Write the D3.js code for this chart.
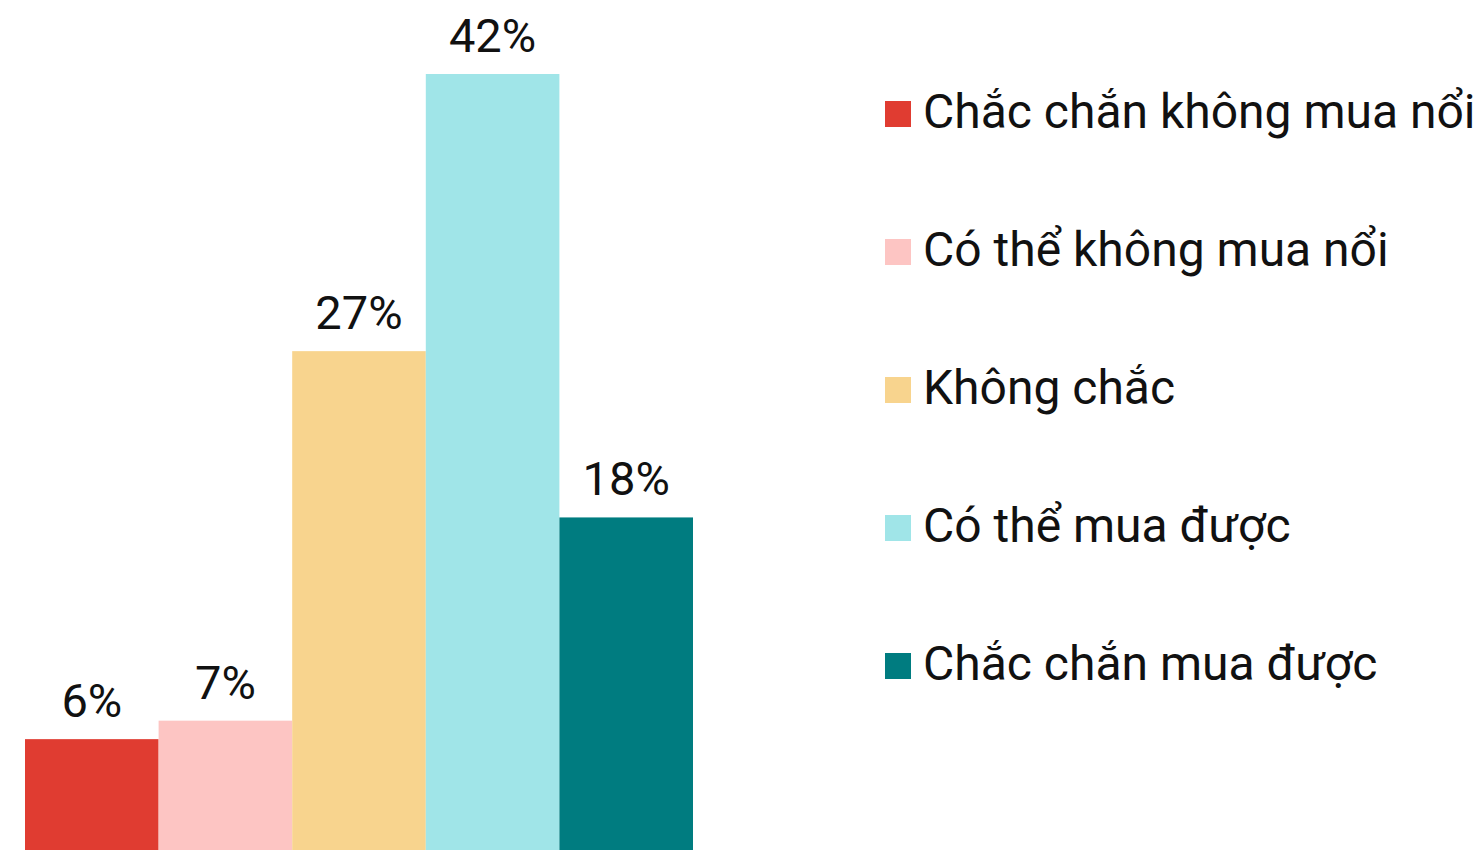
<!DOCTYPE html>
<html>
<head>
<meta charset="utf-8">
<script src="https://cdn.jsdelivr.net/npm/d3@7"></script>
<style>
  html, body { margin: 0; padding: 0; background: #fff; }
  svg { display: block; font-family: Roboto, "Noto Sans", sans-serif; }
</style>
</head>
<body>
<svg id="chart" width="1482" height="851"></svg>
<script>
const categories = [
  "Chắc chắn không mua nổi",
  "Có thể không mua nổi",
  "Không chắc",
  "Có thể mua được",
  "Chắc chắn mua được"
];
const values = [6, 7, 27, 42, 18];
const colors = ["#e03c31", "#fdc5c3", "#f8d48e", "#a0e5e8", "#007c80"];

const svg = d3.select("#chart");
const baseY = 850, topY = 74;

const x = d3.scaleBand().domain(categories).range([25, 693]).padding(0);
const y = d3.scaleLinear().domain([0, d3.max(values)]).range([baseY, topY]);

const g = svg.append("g");

g.selectAll("rect.bar")
  .data(categories)
  .join("rect")
  .attr("class", "bar")
  .attr("x", d => x(d))
  .attr("width", x.bandwidth())
  .attr("y", (d, i) => y(values[i]))
  .attr("height", (d, i) => baseY - y(values[i]))
  .attr("fill", (d, i) => colors[i]);

g.selectAll("text.val")
  .data(categories)
  .join("text")
  .attr("class", "val")
  .attr("x", d => x(d) + x.bandwidth() / 2)
  .attr("y", (d, i) => y(values[i]) - 22)
  .attr("text-anchor", "middle")
  .attr("font-size", 47)
  .attr("fill", "#111")
  .text((d, i) => values[i] + "%");

// Legend
const legend = svg.append("g").attr("transform", "translate(885,0)");
const rowY = d3.scalePoint().domain(categories).range([114, 666]);

const items = legend.selectAll("g.item")
  .data(categories)
  .join("g")
  .attr("class", "item")
  .attr("transform", d => `translate(0,${rowY(d)})`);

items.append("rect")
  .attr("x", 0).attr("y", -13)
  .attr("width", 26).attr("height", 26)
  .attr("fill", (d, i) => colors[i]);

items.append("text")
  .attr("x", 38)
  .attr("y", 14)
  .attr("font-size", 48)
  .attr("fill", "#111")
  .text(d => d);
</script>
</body>
</html>
